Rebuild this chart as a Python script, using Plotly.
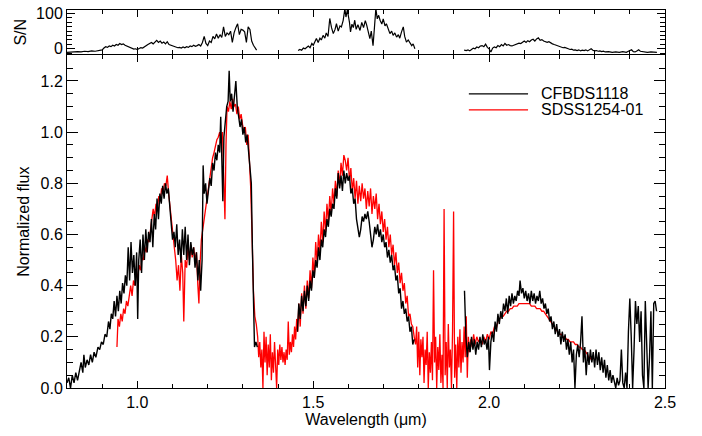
import plotly.graph_objects as go

# ---------------- CFBDS1118 (black) : three segments ----------------
cf_wl_1 = [0.800,0.805,0.810,0.815,0.820,0.825,0.830,0.835,0.840,0.845,0.848,0.852,0.857,0.862,0.867,0.872,0.877,0.882,0.888,0.893,
           0.898,0.903,0.908,0.913,0.918,0.922,0.926,0.930,0.934,0.938,0.942,0.946,0.950,0.954,0.958,0.962,0.966,0.970,0.974,0.978,
           0.982,0.986,0.990,0.994,0.998,1.001,1.004,1.008,1.012,1.016,1.020,1.024,1.028,1.032,1.036,1.040,1.044,1.048,1.052,1.056,
           1.060,1.064,1.068,1.072,1.076,1.080,1.084,1.088,1.092,1.096,1.100,1.104,1.108,1.112,1.116,1.120,1.124,1.128,1.132,1.136,
           1.140,1.144,1.148,1.152,1.156,1.160,1.164,1.168,1.172,1.176,1.180,1.184,1.187,1.190,1.194,1.198,1.202,1.206,1.210,1.214,
           1.218,1.222,1.226,1.230,1.234,1.237,1.240,1.243,1.246,1.250,1.254,1.258,1.261,1.264,1.268,1.272,1.276,1.280,1.284,1.288,
           1.292,1.296,1.300,1.304,1.308,1.312,1.316,1.320,1.324,1.327,1.330,1.333,1.337,1.341]
cf_fx_1 = [0.02,0.04,0.00,0.05,0.02,0.06,0.03,0.07,0.10,0.06,0.13,0.08,0.11,0.09,0.13,0.10,0.14,0.12,0.16,0.15,
           0.18,0.17,0.21,0.20,0.26,0.23,0.29,0.27,0.34,0.28,0.36,0.30,0.38,0.33,0.41,0.37,0.44,0.40,0.55,0.42,
           0.57,0.45,0.52,0.40,0.53,0.27,0.50,0.58,0.45,0.60,0.50,0.62,0.53,0.61,0.57,0.66,0.55,0.68,0.62,0.74,
           0.66,0.76,0.72,0.79,0.74,0.80,0.76,0.78,0.70,0.63,0.58,0.61,0.55,0.64,0.52,0.58,0.49,0.62,0.52,0.63,
           0.50,0.60,0.48,0.57,0.52,0.55,0.47,0.53,0.42,0.50,0.38,0.50,0.87,0.76,0.80,0.72,0.76,0.82,0.79,0.88,
           0.85,0.92,0.89,0.95,0.92,1.06,0.90,0.73,0.98,1.03,1.10,1.12,1.24,1.12,1.15,1.08,1.14,1.20,1.10,1.06,
           1.02,1.05,0.99,1.02,0.96,0.99,0.92,0.86,0.80,0.55,0.35,0.16,0.18,0.16]

cf_wl_2 = [1.455,1.459,1.463,1.467,1.471,1.475,1.479,1.483,1.487,1.491,1.495,1.499,1.503,1.507,1.511,1.515,1.519,1.523,1.527,1.531,
           1.535,1.539,1.543,1.547,1.551,1.555,1.559,1.563,1.567,1.571,1.575,1.579,1.583,1.587,1.591,1.595,1.599,1.603,1.607,1.611,
           1.615,1.619,1.623,1.627,1.631,1.635,1.639,1.643,1.647,1.651,1.655,1.659,1.663,1.667,1.671,1.675,1.679,1.683,1.687,1.691,
           1.695,1.699,1.703,1.707,1.711,1.715,1.719,1.723,1.727,1.731,1.735,1.739,1.743,1.747,1.751,1.755,1.759,1.763,1.767,1.771,
           1.775,1.779,1.783,1.787]
cf_fx_2 = [0.22,0.33,0.27,0.36,0.30,0.38,0.32,0.40,0.34,0.42,0.38,0.46,0.43,0.50,0.47,0.55,0.50,0.58,0.55,0.62,
           0.59,0.66,0.63,0.70,0.67,0.72,0.70,0.78,0.74,0.84,0.78,0.83,0.77,0.85,0.80,0.84,0.81,0.83,0.76,0.78,
           0.72,0.74,0.66,0.63,0.59,0.62,0.67,0.65,0.68,0.66,0.69,0.65,0.60,0.55,0.58,0.63,0.60,0.64,0.59,0.62,
           0.57,0.60,0.55,0.57,0.51,0.54,0.49,0.52,0.46,0.48,0.42,0.44,0.37,0.39,0.31,0.34,0.29,0.31,0.26,0.28,
           0.22,0.24,0.17,0.19]

cf_wl_3 = [1.930,1.934,1.938,1.942,1.946,1.950,1.954,1.958,1.962,1.966,1.970,1.974,1.978,1.982,1.986,1.990,1.994,1.998,2.001,2.005,
           2.009,2.013,2.017,2.021,2.025,2.029,2.033,2.037,2.041,2.045,2.049,2.053,2.057,2.061,2.065,2.069,2.073,2.077,2.081,2.085,
           2.088,2.092,2.096,2.100,2.104,2.108,2.112,2.116,2.120,2.124,2.128,2.132,2.136,2.140,2.144,2.148,2.152,2.156,2.160,2.164,
           2.168,2.172,2.176,2.180,2.184,2.188,2.192,2.196,2.200,2.204,2.208,2.212,2.216,2.220,2.224,2.228,2.232,2.236,2.240,2.244,
           2.248,2.252,2.256,2.260,2.264,2.268,2.272,2.276,2.280,2.284,2.288,2.292,2.296,2.300,2.304,2.308,2.312,2.316,2.320,2.324,
           2.328,2.332,2.336,2.340,2.344,2.348,2.352,2.356,2.360,2.364,2.368,2.372,2.376,2.380,2.384,2.388,2.392,2.396,2.400,2.404,
           2.408,2.412,2.416,2.420,2.424,2.428,2.432,2.436,2.440,2.444,2.448,2.452,2.456,2.460,2.464,2.468,2.472,2.476]
cf_fx_3 = [0.38,0.20,0.12,0.18,0.14,0.20,0.15,0.19,0.13,0.18,0.15,0.20,0.16,0.21,0.17,0.19,0.15,0.20,0.07,0.18,
           0.22,0.18,0.26,0.22,0.29,0.25,0.30,0.27,0.33,0.30,0.35,0.29,0.36,0.32,0.37,0.33,0.36,0.34,0.38,0.36,
           0.42,0.37,0.39,0.35,0.38,0.34,0.37,0.33,0.38,0.34,0.37,0.33,0.36,0.34,0.38,0.33,0.35,0.31,0.33,0.29,
           0.31,0.26,0.28,0.23,0.26,0.21,0.25,0.20,0.23,0.17,0.22,0.18,0.21,0.15,0.19,0.13,0.18,0.10,0.15,0.00,
           0.13,0.17,0.12,0.18,0.28,0.10,0.16,0.05,0.14,0.09,0.15,0.10,0.14,0.08,0.15,0.09,0.14,0.07,0.12,0.06,
           0.11,0.04,0.09,0.03,0.07,0.02,0.05,0.03,0.00,0.04,0.01,0.03,0.15,0.02,0.00,0.06,0.00,0.22,0.35,0.20,
           0.00,0.15,0.34,0.25,0.32,0.18,0.30,0.05,0.00,0.34,0.20,0.00,0.12,0.30,0.00,0.33,0.34,0.30]

# ---------------- SDSS1254-01 (red) ----------------
sd_wl = [0.942,0.945,0.949,0.953,0.957,0.961,0.965,0.969,0.973,0.977,0.981,0.985,0.989,0.993,0.997,1.001,1.005,1.009,1.013,1.017,
         1.021,1.025,1.029,1.033,1.037,1.041,1.045,1.049,1.053,1.057,1.061,1.065,1.069,1.073,1.077,1.081,1.085,1.089,1.093,1.097,
         1.101,1.105,1.109,1.113,1.117,1.121,1.125,1.129,1.132,1.136,1.140,1.144,1.148,1.152,1.156,1.160,1.164,1.168,1.172,1.175,
         1.178,1.182,1.186,1.190,1.194,1.198,1.202,1.206,1.210,1.214,1.218,1.222,1.226,1.230,1.234,1.238,1.242,1.246,1.249,1.252,
         1.255,1.259,1.263,1.267,1.271,1.275,1.279,1.283,1.287,1.291,1.295,1.299,1.303,1.307,1.311,1.315,1.319,1.322,1.326,1.330,
         1.334,1.338,1.342,1.345,1.348,1.351,1.354,1.357,1.360,1.363,1.366,1.369,1.372,1.375,1.378,1.381,1.384,1.387,1.390,1.393,
         1.396,1.399,1.402,1.405,1.408,1.411,1.414,1.417,1.420,1.423,1.426,1.429,1.432,1.435,1.438,1.441,1.444,1.447,1.450,1.453,
         1.456,1.459,1.463,1.467,1.471,1.475,1.479,1.483,1.487,1.491,1.495,1.499,1.503,1.507,1.511,1.515,1.519,1.523,1.527,1.531,
         1.535,1.539,1.543,1.547,1.551,1.555,1.559,1.563,1.567,1.571,1.575,1.579,1.583,1.587,1.591,1.595,1.599,1.603,1.607,1.611,
         1.615,1.619,1.623,1.627,1.631,1.635,1.639,1.643,1.647,1.651,1.655,1.659,1.663,1.667,1.671,1.675,1.679,1.683,1.687,1.691,
         1.695,1.699,1.703,1.707,1.711,1.715,1.719,1.723,1.727,1.731,1.735,1.739,1.743,1.747,1.751,1.755,1.759,1.763,1.767,1.771,
         1.775,1.779,1.783,1.787,1.791,1.794,1.797,1.800,1.803,1.806,1.809,1.812,1.815,1.818,1.821,1.824,1.827,1.830,1.833,1.836,
         1.839,1.842,1.845,1.848,1.851,1.854,1.857,1.860,1.863,1.866,1.869,1.872,1.875,1.878,1.881,1.884,1.887,1.890,1.893,1.896,
         1.899,1.902,1.905,1.908,1.911,1.914,1.917,1.920,1.923,1.926,1.929,1.932,1.935,1.938,1.941,1.944,1.948,1.952,1.956,1.960,
         1.965,1.970,1.975,1.980,1.985,1.990,1.995,2.000,2.005,2.010,2.015,2.020,2.025,2.030,2.035,2.040,2.045,2.050,2.055,2.060,
         2.065,2.070,2.075,2.080,2.085,2.090,2.095,2.100,2.105,2.110,2.115,2.120,2.125,2.130,2.135,2.140,2.145,2.150,2.155,2.160,
         2.165,2.170,2.175,2.180,2.185,2.190,2.195,2.200,2.205,2.210,2.215,2.220,2.225,2.230,2.235,2.240,2.245,2.250,2.255,2.260,
         2.265,2.270,2.275,2.280,2.285,2.290,2.295]
sd_fx = [0.16,0.27,0.24,0.29,0.26,0.31,0.29,0.34,0.32,0.37,0.40,0.36,0.42,0.40,0.45,0.43,0.48,0.46,0.51,0.50,
         0.55,0.53,0.58,0.57,0.62,0.65,0.70,0.67,0.72,0.70,0.75,0.73,0.78,0.76,0.80,0.79,0.83,0.76,0.70,0.64,
         0.60,0.55,0.50,0.42,0.48,0.38,0.52,0.45,0.26,0.50,0.47,0.55,0.50,0.56,0.51,0.55,0.50,0.53,0.40,0.33,
         0.48,0.58,0.62,0.66,0.70,0.74,0.80,0.84,0.87,0.90,0.92,0.95,0.97,0.98,1.00,0.97,1.00,0.80,0.66,0.95,
         1.10,1.08,1.12,1.09,1.13,1.10,1.11,1.07,1.10,1.05,1.07,1.03,1.00,1.02,0.95,0.99,0.88,0.79,0.60,0.38,
         0.28,0.25,0.20,0.12,0.18,0.08,0.15,0.00,0.22,0.10,0.20,0.05,0.17,0.08,0.21,0.03,0.14,0.06,0.18,0.10,
         0.00,0.15,0.09,0.17,0.11,0.16,0.10,0.14,0.09,0.15,0.11,0.26,0.13,0.18,0.14,0.21,0.16,0.24,0.19,0.27,
         0.22,0.33,0.24,0.37,0.29,0.40,0.31,0.42,0.35,0.46,0.39,0.51,0.43,0.57,0.49,0.60,0.53,0.65,0.57,0.69,
         0.61,0.72,0.65,0.75,0.68,0.78,0.72,0.81,0.75,0.85,0.79,0.88,0.83,0.91,0.89,0.85,0.90,0.81,0.86,0.77,
         0.82,0.74,0.81,0.72,0.79,0.73,0.80,0.74,0.78,0.70,0.77,0.71,0.78,0.68,0.75,0.70,0.76,0.66,0.72,0.64,
         0.69,0.61,0.66,0.58,0.63,0.55,0.60,0.52,0.56,0.48,0.53,0.45,0.49,0.41,0.45,0.38,0.41,0.33,0.36,0.28,
         0.29,0.25,0.24,0.20,0.17,0.24,0.08,0.22,0.05,0.19,0.12,0.20,0.02,0.15,0.09,0.22,0.00,0.14,0.06,0.18,
         0.03,0.46,0.10,0.20,0.00,0.16,0.07,0.21,0.02,0.13,0.00,0.70,0.05,0.18,0.00,0.25,0.08,0.15,0.00,0.22,
         0.69,0.04,0.17,0.00,0.20,0.08,0.23,0.06,0.18,0.10,0.24,0.12,0.28,0.04,0.20,0.14,0.19,0.16,0.21,0.17,
         0.20,0.18,0.19,0.17,0.20,0.18,0.21,0.19,0.22,0.21,0.24,0.23,0.26,0.27,0.28,0.28,0.29,0.30,0.30,0.31,
         0.31,0.32,0.32,0.32,0.33,0.33,0.33,0.33,0.33,0.33,0.33,0.32,0.32,0.32,0.31,0.31,0.31,0.30,0.30,0.29,
         0.28,0.27,0.26,0.25,0.24,0.23,0.22,0.21,0.21,0.20,0.20,0.19,0.19,0.18,0.18,0.18,0.17,0.17,0.16,0.16,
         0.15,0.15,0.14,0.13,0.11,0.12,0.11]

# ---------------- S/N of CFBDS1118 : three segments ----------------
sn_wl_1 = [0.800,0.810,0.820,0.830,0.840,0.850,0.860,0.870,0.880,0.890,0.900,0.905,0.910,0.915,0.920,0.925,0.930,0.935,0.940,0.945,
           0.950,0.955,0.960,0.965,0.970,0.975,0.980,0.985,0.990,0.995,1.000,1.005,1.010,1.015,1.020,1.025,1.030,1.035,1.040,1.045,
           1.050,1.055,1.060,1.065,1.070,1.075,1.080,1.085,1.090,1.095,1.100,1.105,1.110,1.115,1.120,1.125,1.130,1.135,1.140,1.145,
           1.150,1.155,1.160,1.165,1.170,1.175,1.180,1.185,1.190,1.195,1.200,1.205,1.210,1.215,1.220,1.225,1.230,1.235,1.240,1.245,
           1.250,1.255,1.260,1.265,1.270,1.275,1.280,1.285,1.290,1.295,1.300,1.305,1.310,1.315,1.320,1.325,1.330,1.335,1.339]
sn_1 = [-10,-9,-10,-8,-9,-7,-8,-6,-7,-5,-3,2,6,4,8,6,10,8,12,10,
        15,12,14,10,8,5,3,1,-1,0,-2,1,3,2,6,9,12,15,18,14,
        20,24,18,22,16,19,14,20,12,10,8,6,5,3,4,2,5,3,6,4,
        8,6,10,7,9,12,8,18,35,15,9,22,18,35,28,42,30,40,32,62,
        35,45,40,50,18,45,60,71,40,55,53,48,18,62,55,22,10,0,-4]

sn_wl_2 = [1.457,1.462,1.467,1.472,1.477,1.481,1.486,1.491,1.496,1.500,1.505,1.509,1.514,1.519,1.523,1.528,1.533,1.537,1.542,1.547,
           1.552,1.557,1.562,1.566,1.571,1.576,1.580,1.585,1.590,1.593,1.597,1.600,1.603,1.606,1.610,1.614,1.618,1.622,1.627,1.633,
           1.638,1.643,1.648,1.652,1.656,1.661,1.665,1.670,1.674,1.678,1.682,1.686,1.690,1.695,1.699,1.704,1.708,1.713,1.718,1.723,
           1.727,1.732,1.737,1.742,1.746,1.751,1.756,1.760,1.765,1.770,1.775,1.780,1.784,1.789]
sn_2 = [-5,-2,-4,2,0,4,8,3,15,10,22,29,18,30,25,38,30,45,35,86,
        60,43,55,71,50,65,62,80,114,90,110,95,75,48,70,60,81,55,68,52,
        75,60,80,67,45,29,50,9,60,114,85,95,81,70,85,65,71,55,43,50,
        38,45,33,40,30,48,62,35,19,25,15,9,14,0]

sn_wl_3 = [1.929,1.935,1.940,1.945,1.950,1.955,1.960,1.965,1.970,1.975,1.980,1.985,1.990,1.995,2.000,2.005,2.010,2.015,2.020,2.025,
           2.030,2.035,2.040,2.045,2.050,2.055,2.060,2.065,2.070,2.075,2.080,2.085,2.090,2.095,2.100,2.105,2.110,2.115,2.120,2.125,
           2.130,2.135,2.140,2.145,2.150,2.155,2.160,2.165,2.170,2.175,2.180,2.185,2.190,2.195,2.200,2.205,2.210,2.215,2.220,2.225,
           2.230,2.235,2.240,2.245,2.250,2.255,2.260,2.265,2.270,2.275,2.280,2.285,2.290,2.295,2.300,2.305,2.310,2.315,2.320,2.325,
           2.330,2.340,2.350,2.360,2.370,2.380,2.390,2.400,2.405,2.410,2.415,2.420,2.425,2.430,2.440,2.450,2.460,2.470,2.477]
sn_3 = [-4,-5,-3,-6,-2,2,0,5,3,8,9,6,13,4,0,-9,2,5,3,9,
        6,12,8,15,10,12,9,8,10,12,14,16,15,19,22,18,23,20,25,27,
        22,28,31,24,26,22,20,18,20,16,14,12,10,8,6,5,3,4,1,0,
        -2,-1,-4,-3,-5,-3,-6,-4,-5,-3,-6,-2,0,-4,-6,-5,-7,-6,-8,-7,
        -9,-8,-10,-9,-10,-8,-10,-5,-3,-8,-9,-6,-3,-7,-9,-10,-9,-10,-10]

x_ticks = [1.0, 1.5, 2.0, 2.5]
flux_ticks = [0.0, 0.2, 0.4, 0.6, 0.8, 1.0, 1.2]
sn_ticks = [0, 100]
legend_names = ["CFBDS1118", "SDSS1254-01"]
legend_colors = ["black", "red"]


def join(*segs):
    xs, ys = [], []
    for i, (a, b) in enumerate(segs):
        if i:
            xs.append(None); ys.append(None)
        xs += a; ys += b
    return xs, ys


cf_x, cf_y = join((cf_wl_1, cf_fx_1), (cf_wl_2, cf_fx_2), (cf_wl_3, cf_fx_3))
sn_x, sn_y = join((sn_wl_1, sn_1), (sn_wl_2, sn_2), (sn_wl_3, sn_3))

FONT = "Liberation Sans, Arial, Helvetica, sans-serif"
FS = 16

fig = go.Figure()
fig.add_trace(go.Scatter(x=sd_wl, y=sd_fx, mode="lines", name=legend_names[1],
                         line=dict(color="red", width=1.3), xaxis="x", yaxis="y", showlegend=False))
fig.add_trace(go.Scatter(x=cf_x, y=cf_y, mode="lines", name=legend_names[0],
                         line=dict(color="black", width=1.4), xaxis="x", yaxis="y", showlegend=False,
                         connectgaps=False))
fig.add_trace(go.Scatter(x=sn_x, y=sn_y, mode="lines", name="S/N",
                         line=dict(color="black", width=1.2), xaxis="x2", yaxis="y2", showlegend=False,
                         connectgaps=False))

axis_common = dict(showline=True, linecolor="black", linewidth=1, mirror="ticks", ticks="inside",
                   tickcolor="black", showgrid=False, zeroline=False,
                   tickfont=dict(family=FONT, size=FS, color="black"))

fig.update_layout(
    width=702, height=436,
    margin=dict(l=67, r=37, t=5, b=48),
    paper_bgcolor="white", plot_bgcolor="white",
    font=dict(family=FONT, size=FS, color="black"),
    xaxis=dict(axis_common, domain=[0, 1], range=[0.8, 2.5], tickvals=x_ticks, ticktext=["1.0", "1.5", "2.0", "2.5"],
               ticklen=7, tickwidth=1,
               minor=dict(dtick=0.1, ticklen=4, ticks="inside", tickcolor="black", showgrid=False),
               title=dict(text="Wavelength (\u03bcm)", standoff=2, font=dict(family=FONT, size=FS)), anchor="y"),
    yaxis=dict(axis_common, domain=[0, 0.880], range=[0, 1.3], tickvals=flux_ticks,
               ticktext=["%.1f" % v for v in flux_ticks], ticklen=11,
               minor=dict(dtick=0.05, ticklen=6, ticks="inside", tickcolor="black", showgrid=False),
               title=dict(text="Normalized flux", standoff=6, font=dict(family=FONT, size=FS)), anchor="x"),
    xaxis2=dict(axis_common, domain=[0, 1], range=[0.8, 2.5], tickvals=x_ticks, showticklabels=False,
                ticklen=7, matches="x", anchor="y2",
                minor=dict(dtick=0.1, ticklen=4, ticks="inside", tickcolor="black", showgrid=False)),
    yaxis2=dict(axis_common, domain=[0.8825, 1], range=[-16, 110], tickvals=sn_ticks,
                ticktext=[str(v) for v in sn_ticks], ticklen=8,
                minor=dict(dtick=12.5, ticklen=5, ticks="inside", tickcolor="black", showgrid=False),
                title=dict(text="S/N", standoff=5, font=dict(family=FONT, size=FS)), anchor="x2"),
)

# Legend drawn as line samples + text labels
leg_y = [0.778, 0.736]
for name, col, yy in zip(legend_names, legend_colors, leg_y):
    fig.add_shape(type="line", xref="paper", yref="paper", x0=0.672, x1=0.771, y0=yy, y1=yy,
                  line=dict(color=col, width=1.3))
    fig.add_annotation(xref="paper", yref="paper", x=0.789, y=yy, text=name, showarrow=False,
                       xanchor="left", yanchor="middle", font=dict(family=FONT, size=FS, color="black"))

fig.write_html("out.html")
